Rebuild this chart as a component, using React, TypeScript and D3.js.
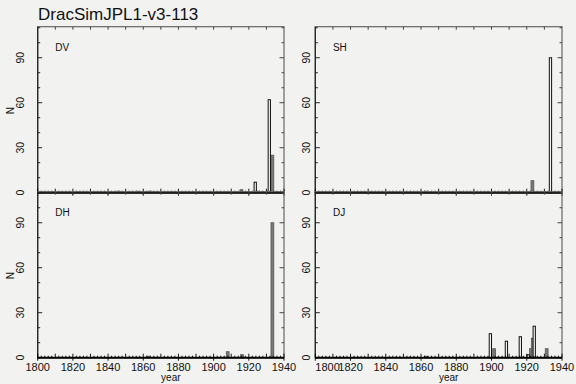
import * as d3 from 'd3'

// start year of each histogram bar, and its count
const DV_OPEN_YEARS = [1923.0, 1931.0]
const DV_OPEN_N = [7, 62]
const DV_FILL_YEARS = [1845, 1856, 1863, 1915, 1924.5, 1930, 1932.6]
const DV_FILL_N = [1, 1, 1, 2, 1, 1, 25]

const SH_OPEN_YEARS = [1932.8]
const SH_OPEN_N = [90]
const SH_FILL_YEARS = [1862, 1922.4]
const SH_FILL_N = [1, 8]

const DH_OPEN_YEARS: number[] = []
const DH_OPEN_N: number[] = []
const DH_FILL_YEARS = [1862, 1907.2, 1915.3, 1932.6]
const DH_FILL_N = [1, 4, 2, 90]

const DJ_OPEN_YEARS = [1898.7, 1907.8, 1915.7, 1920.2, 1923.6]
const DJ_OPEN_N = [16, 11, 14, 2, 21]
const DJ_FILL_YEARS = [1862, 1900.7, 1921.5, 1922.6, 1930.5]
const DJ_FILL_N = [1, 6, 6, 13, 6]

const X_DOMAIN = [1800, 1940]
const Y_DOMAIN = [0, 110.7]
const X_TICK_LABELS = [1800, 1820, 1840, 1860, 1880, 1900, 1920, 1940]
const Y_TICK_LABELS = [0, 30, 60, 90]

const TITLE = 'DracSimJPL1-v3-113'

const zip = (ys: number[], ns: number[]) => ys.map((y, i) => ({ year: y, n: ns[i] }))

const PANELS = [
  { name: 'DV', col: 0, row: 0, open: zip(DV_OPEN_YEARS, DV_OPEN_N), fill: zip(DV_FILL_YEARS, DV_FILL_N) },
  { name: 'SH', col: 1, row: 0, open: zip(SH_OPEN_YEARS, SH_OPEN_N), fill: zip(SH_FILL_YEARS, SH_FILL_N) },
  { name: 'DH', col: 0, row: 1, open: zip(DH_OPEN_YEARS, DH_OPEN_N), fill: zip(DH_FILL_YEARS, DH_FILL_N) },
  { name: 'DJ', col: 1, row: 1, open: zip(DJ_OPEN_YEARS, DJ_OPEN_N), fill: zip(DJ_FILL_YEARS, DJ_FILL_N) }
]

const BG = '#f2f2f0'
const FONT = '"Liberation Sans", Arial, sans-serif'

// plot frames in pixels
const COLS = [[37.7, 284], [315.3, 562]]
const ROWS = [[192.7, 26.7], [357.7, 191.7]]

function Panel({ p }: { p: typeof PANELS[number] }) {
  const [x0, x1] = COLS[p.col]
  const [yb, yt] = ROWS[p.row]
  const x = d3.scaleLinear().domain(X_DOMAIN).range([x0, x1])
  const y = d3.scaleLinear().domain(Y_DOMAIN).range([yb, yt])
  const yTicks = d3.range(0, 111, 10)
  const minorX = d3.range(1800, 1941, 2)
  const isBottom = p.row === 1
  const labelX = p.col === 0 ? x0 - 17 : x0 - 9

  return (
    <g>
      {/* frame */}
      <rect x={x0} y={yt} width={x1 - x0} height={yb - yt} fill="none" stroke="#666" strokeWidth={1.2} />
      <line x1={x0} x2={x0} y1={yt} y2={yb} stroke="#222" strokeWidth={1.2} />

      {/* filled bars */}
      {p.fill.map((d, i) => (
        <rect key={'f' + i} x={x(d.year)} y={y(d.n)} width={x(d.year + 1.6) - x(d.year)}
          height={y(0) - y(d.n)} fill="#7a7a7a" stroke="#555" strokeWidth={0.8} />
      ))}
      {/* open bars */}
      {p.open.map((d, i) => (
        <rect key={'o' + i} x={x(d.year)} y={y(d.n)} width={x(d.year + 1.3) - x(d.year)}
          height={y(0) - y(d.n)} fill={BG} stroke="#111" strokeWidth={1} />
      ))}

      {/* y ticks, left and right */}
      {yTicks.map(t => {
        const len = t % 30 === 0 ? 4.5 : 2.5
        return (
          <g key={'y' + t}>
            <line x1={x0} x2={x0 + len} y1={y(t)} y2={y(t)} stroke="#222" />
            <line x1={x1} x2={x1 - len} y1={y(t)} y2={y(t)} stroke="#444" />
          </g>
        )
      })}
      {Y_TICK_LABELS.map(t => (
        <text key={'yl' + t} transform={`translate(${labelX},${y(t)}) rotate(-90)`}
          textAnchor="middle" dy="0.35em" fontSize={10.5} fill="#111" fontFamily={FONT}>{t}</text>
      ))}
      {p.col === 0 && (
        <text transform={`translate(${x0 - 27},${(yb + yt) / 2 + 1}) rotate(-90)`} textAnchor="middle"
          dy="0.35em" fontSize={10} fill="#111" fontFamily={FONT}>N</text>
      )}

      {/* top ticks */}
      {d3.range(1810, 1940, 10).map(t => (
        <line key={'tt' + t} x1={x(t)} x2={x(t)} y1={yt} y2={yt + 3} stroke="#444" />
      ))}

      {/* bottom axis */}
      <line x1={x0} x2={x1} y1={yb} y2={yb} stroke="#000" strokeWidth={2} />
      {minorX.map(t => {
        const up = t % 10 === 0 ? 4 : 2
        const down = t % 20 === 0 ? 3 : 0
        return <line key={'bt' + t} x1={x(t)} x2={x(t)} y1={yb + down} y2={yb - up} stroke="#000" strokeWidth={0.9} />
      })}

      {isBottom && X_TICK_LABELS.map((t, i) => (
        <text key={'xl' + t} x={x(t)} y={yb + 13.5} textAnchor={p.col === 1 && i === 0 ? 'start' : 'middle'}
          fontSize={11} fill="#111" fontFamily={FONT}>{t}</text>
      ))}
      {isBottom && (
        <text x={(x0 + x1) / 2 + 10} y={yb + 23.5} textAnchor="middle" fontSize={10} fill="#111" fontFamily={FONT}>year</text>
      )}

      <text x={x(1810)} y={yt + 24} fontSize={10} fill="#111" fontFamily={FONT}>{p.name}</text>
    </g>
  )
}

export default function App() {
  return (
    <div style={{ position: 'fixed', left: 0, top: 0 }}>
      <svg width={576} height={384} style={{ display: 'block', background: BG }}>
        <rect width={576} height={384} fill={BG} />
        <text x={38} y={20} fontSize={17} fill="#111" fontFamily={FONT}>{TITLE}</text>
        {PANELS.map(p => <Panel key={p.name} p={p} />)}
      </svg>
    </div>
  )
}
